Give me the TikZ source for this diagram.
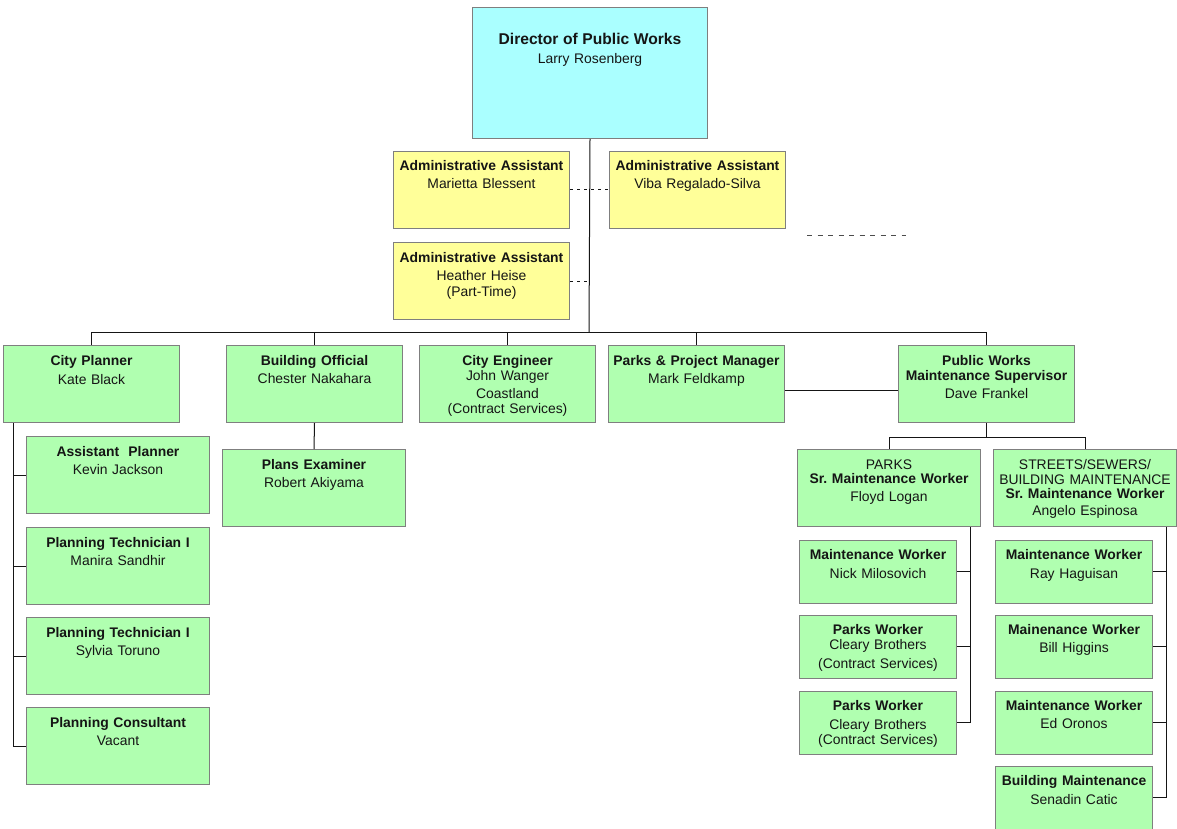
\documentclass[tikz,border=0pt]{standalone}
\usepackage{fontspec}
\setmainfont{Liberation Sans}
\frenchspacing
\definecolor{dircyan}{HTML}{AAFFFF}
\definecolor{asstyellow}{HTML}{FFFF99}
\definecolor{staffgreen}{HTML}{B0FFB0}
\definecolor{boxline}{HTML}{7F7F7F}
\definecolor{ink}{HTML}{151515}
\begin{document}
\begin{tikzpicture}[x=1pt,y=-1pt,
    box/.style={draw=boxline,line width=1pt,text=ink,align=center,inner sep=0pt,
      anchor=north west,font=\fontsize{13.9}{16}\selectfont,text height=19.5pt},
    dirbox/.style={box,fill=dircyan,text width=235pt,text height=37.5pt,text depth=93.5pt},
    asstbox/.style={box,fill=asstyellow,text width=176pt,text depth=57.5pt},
    headbox/.style={box,fill=staffgreen,text width=176pt,text depth=57.5pt},
    staffbox/.style={box,fill=staffgreen,text width=183pt,text depth=57.5pt},
    crewbox/.style={box,fill=staffgreen,text width=157pt,text height=19pt,text depth=43.5pt},
    link/.style={draw=ink,line width=1pt},
    dotlink/.style={link,dash pattern=on 3pt off 4pt}]
    \useasboundingbox (0,0) rectangle (1177,829);
    % director and assistants
    \node[dirbox] (dir) at (472,7) {{\fontsize{15.6}{18}\selectfont\textbf{Director of Public Works}}\\[3pt]Larry Rosenberg};
    \node[asstbox] (aa1) at (393,151) {\textbf{Administrative Assistant}\\[2pt]Marietta Blessent};
    \node[asstbox] (aa2) at (609,151) {\textbf{Administrative Assistant}\\[2pt]Viba Regalado-Silva};
    \node[asstbox] (aa3) at (393,242) {\textbf{Administrative Assistant}\\[2pt]Heather Heise\\(Part-Time)};
    % department heads
    \node[headbox] (cp) at (3,345) {\textbf{City Planner}\\[3pt]Kate Black};
    \node[headbox] (bo) at (226,345) {\textbf{Building Official}\\[2pt]Chester Nakahara};
    \node[headbox] (ce) at (419,345) {\textbf{City Engineer}\\[-1pt]John Wanger\\[2pt]Coastland\\[-1pt](Contract Services)};
    \node[headbox] (ppm) at (608,345) {\textbf{Parks \& Project Manager}\\[2pt]Mark Feldkamp};
    \node[headbox] (pws) at (898,345) {\textbf{Public Works}\\[-1pt]\textbf{Maintenance Supervisor}\\[2pt]Dave Frankel};
    % planning
    \node[staffbox] (ap) at (26,436) {\textbf{Assistant\ \ Planner}\\[2.5pt]Kevin Jackson};
    \node[staffbox] (pt1) at (26,527) {\textbf{Planning Technician I}\\[2.5pt]Manira Sandhir};
    \node[staffbox] (pt2) at (26,617) {\textbf{Planning Technician I}\\[2.5pt]Sylvia Toruno};
    \node[staffbox] (pc) at (26,707) {\textbf{Planning Consultant}\\[2.5pt]Vacant};
    \node[staffbox] (pe) at (222,449) {\textbf{Plans Examiner}\\[2.5pt]Robert Akiyama};
    % maintenance
    \node[staffbox] (parks) at (797,449) {PARKS\\[-1.5pt]\textbf{Sr. Maintenance Worker}\\[1.5pt]Floyd Logan};
    \node[staffbox] (streets) at (993,449) {STREETS/SEWERS/\\[-1pt]BUILDING MAINTENANCE\\[-1.5pt]\textbf{Sr. Maintenance Worker}\\[1pt]Angelo Espinosa};
    \node[crewbox] (nm) at (799,540) {\textbf{Maintenance Worker}\\[3pt]Nick Milosovich};
    \node[crewbox] (pw1) at (799,615) {\textbf{Parks Worker}\\[-1pt]Cleary Brothers\\[2.5pt](Contract Services)};
    \node[crewbox] (pw2) at (799,691) {\textbf{Parks Worker}\\[3pt]Cleary Brothers\\[-1pt](Contract Services)};
    \node[crewbox] (rh) at (995,540) {\textbf{Maintenance Worker}\\[3pt]Ray Haguisan};
    \node[crewbox] (bh) at (995,615) {\textbf{Mainenance Worker}\\[1.5pt]Bill Higgins};
    \node[crewbox] (eo) at (995,691) {\textbf{Maintenance Worker}\\[2pt]Ed Oronos};
    \node[crewbox] (bm) at (995,766) {\textbf{Building Maintenance}\\[2.5pt]Senadin Catic};
    % connectors
    \coordinate (bus) at (589,332);
    \draw[link] (dir.south) -- (bus);
    \draw[link] (cp.north) -- ++(0,-13) -| (pws.north);
    \foreach \n in {bo,ce,ppm}
        \draw[link] (\n.north) -- ++(0,-13);
    \draw[dotlink] (aa1.east) -- (aa2.west);
    \draw[dotlink] (aa3.east) -- (aa3.east -| dir.south);
    \draw[link] ([yshift=-6.5pt]ppm.east) -- ([yshift=-6.5pt]pws.west);
    \foreach \n in {ap,pt1,pt2,pc}
        \draw[link] ([xshift=10pt]cp.south west) |- (\n.west);
    \draw[link] (bo.south) -- (pe.north);
    \draw[link] (pws.south) -- ++(0,14) -| (parks.north);
    \draw[link] (pws.south) ++(0,14) -| (streets.north);
    \foreach \n in {nm,pw1,pw2}
        \draw[link] ([xshift=-11pt]parks.south east) |- (\n.east);
    \foreach \n in {rh,bh,eo,bm}
        \draw[link] ([xshift=-11pt]streets.south east) |- (\n.east);
    \coordinate (stray1) at (807,235);
    \coordinate (stray2) at (906,235);
    \draw[link,draw=boxline!60!black,dash pattern=on 5pt off 5.5pt] (stray1) -- (stray2);
\end{tikzpicture}
\end{document}
